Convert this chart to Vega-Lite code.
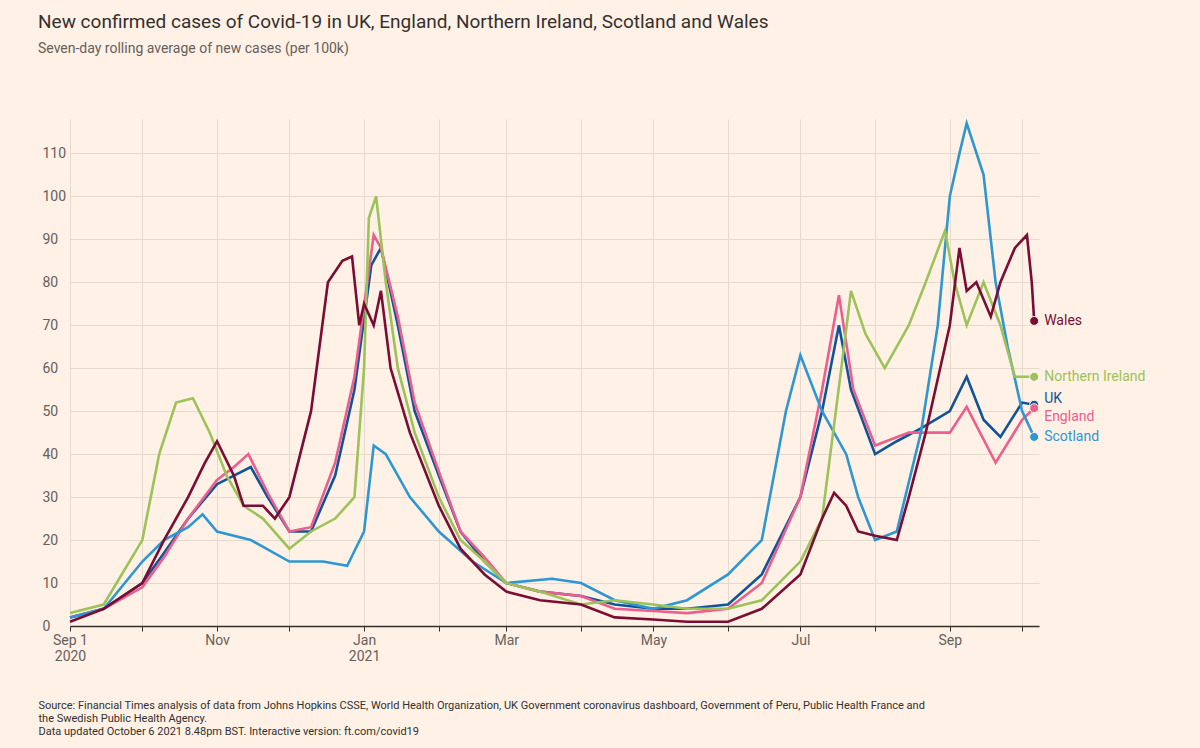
{
  "$schema": "https://vega.github.io/schema/vega-lite/v6.json",
  "width": 1200, "height": 748,
  "autosize": {"type": "fit", "contains": "padding"},
  "padding": {"left": 38, "top": 14, "right": 55, "bottom": 12},
  "background": "#fff1e5",
  "title": {
    "text": "New confirmed cases of Covid-19 in UK, England, Northern Ireland, Scotland and Wales",
    "subtitle": "Seven-day rolling average of new cases (per 100k)",
    "anchor": "start", "frame": "group", "offset": 62, "dx": -32,
    "font": "Roboto", "fontSize": 19, "fontWeight": "normal", "color": "#33302e",
    "subtitleFont": "Roboto", "subtitleFontSize": 14, "subtitleColor": "#66605c", "subtitlePadding": 10
  },
  "data": {"values": [
    {"d":"2020-09-01","c":"UK","v":2},{"d":"2020-09-15","c":"UK","v":4},{"d":"2020-10-01","c":"UK","v":10},{"d":"2020-10-10","c":"UK","v":17},{"d":"2020-10-20","c":"UK","v":25},{"d":"2020-11-01","c":"UK","v":33},{"d":"2020-11-08","c":"UK","v":35},{"d":"2020-11-15","c":"UK","v":37},{"d":"2020-11-22","c":"UK","v":30},{"d":"2020-12-01","c":"UK","v":22},{"d":"2020-12-10","c":"UK","v":22},{"d":"2020-12-20","c":"UK","v":35},{"d":"2020-12-28","c":"UK","v":55},{"d":"2021-01-04","c":"UK","v":84},{"d":"2021-01-08","c":"UK","v":88},{"d":"2021-01-15","c":"UK","v":70},{"d":"2021-01-22","c":"UK","v":50},{"d":"2021-02-01","c":"UK","v":35},{"d":"2021-02-10","c":"UK","v":22},{"d":"2021-02-20","c":"UK","v":15},{"d":"2021-03-01","c":"UK","v":10},{"d":"2021-03-15","c":"UK","v":8},{"d":"2021-04-01","c":"UK","v":7},{"d":"2021-04-15","c":"UK","v":5},{"d":"2021-05-01","c":"UK","v":4},{"d":"2021-05-15","c":"UK","v":4},{"d":"2021-06-01","c":"UK","v":5},{"d":"2021-06-15","c":"UK","v":12},{"d":"2021-07-01","c":"UK","v":30},{"d":"2021-07-10","c":"UK","v":50},{"d":"2021-07-17","c":"UK","v":70},{"d":"2021-07-22","c":"UK","v":55},{"d":"2021-08-01","c":"UK","v":40},{"d":"2021-08-10","c":"UK","v":43},{"d":"2021-08-20","c":"UK","v":46},{"d":"2021-09-01","c":"UK","v":50},{"d":"2021-09-08","c":"UK","v":58},{"d":"2021-09-15","c":"UK","v":48},{"d":"2021-09-22","c":"UK","v":44},{"d":"2021-10-01","c":"UK","v":52},{"d":"2021-10-06","c":"UK","v":51.5},
    {"d":"2020-09-01","c":"England","v":2},{"d":"2020-09-15","c":"England","v":4},{"d":"2020-10-01","c":"England","v":9},{"d":"2020-10-10","c":"England","v":16},{"d":"2020-10-20","c":"England","v":25},{"d":"2020-11-01","c":"England","v":34},{"d":"2020-11-08","c":"England","v":37},{"d":"2020-11-14","c":"England","v":40},{"d":"2020-11-22","c":"England","v":31},{"d":"2020-12-01","c":"England","v":22},{"d":"2020-12-10","c":"England","v":23},{"d":"2020-12-20","c":"England","v":38},{"d":"2020-12-28","c":"England","v":58},{"d":"2021-01-05","c":"England","v":91},{"d":"2021-01-08","c":"England","v":88},{"d":"2021-01-15","c":"England","v":72},{"d":"2021-01-22","c":"England","v":52},{"d":"2021-02-01","c":"England","v":36},{"d":"2021-02-10","c":"England","v":22},{"d":"2021-02-20","c":"England","v":16},{"d":"2021-03-01","c":"England","v":10},{"d":"2021-03-15","c":"England","v":8},{"d":"2021-04-01","c":"England","v":7},{"d":"2021-04-15","c":"England","v":4},{"d":"2021-05-01","c":"England","v":3.5},{"d":"2021-05-15","c":"England","v":3},{"d":"2021-06-01","c":"England","v":4},{"d":"2021-06-15","c":"England","v":10},{"d":"2021-07-01","c":"England","v":30},{"d":"2021-07-10","c":"England","v":55},{"d":"2021-07-17","c":"England","v":77},{"d":"2021-07-23","c":"England","v":55},{"d":"2021-08-01","c":"England","v":42},{"d":"2021-08-15","c":"England","v":45},{"d":"2021-09-01","c":"England","v":45},{"d":"2021-09-08","c":"England","v":51},{"d":"2021-09-20","c":"England","v":38},{"d":"2021-10-01","c":"England","v":48},{"d":"2021-10-06","c":"England","v":50.7},
    {"d":"2020-09-01","c":"Scotland","v":2},{"d":"2020-09-15","c":"Scotland","v":4},{"d":"2020-10-01","c":"Scotland","v":15},{"d":"2020-10-10","c":"Scotland","v":20},{"d":"2020-10-20","c":"Scotland","v":23},{"d":"2020-10-26","c":"Scotland","v":26},{"d":"2020-11-01","c":"Scotland","v":22},{"d":"2020-11-15","c":"Scotland","v":20},{"d":"2020-12-01","c":"Scotland","v":15},{"d":"2020-12-15","c":"Scotland","v":15},{"d":"2020-12-25","c":"Scotland","v":14},{"d":"2021-01-01","c":"Scotland","v":22},{"d":"2021-01-05","c":"Scotland","v":42},{"d":"2021-01-10","c":"Scotland","v":40},{"d":"2021-01-20","c":"Scotland","v":30},{"d":"2021-02-01","c":"Scotland","v":22},{"d":"2021-02-15","c":"Scotland","v":15},{"d":"2021-03-01","c":"Scotland","v":10},{"d":"2021-03-20","c":"Scotland","v":11},{"d":"2021-04-01","c":"Scotland","v":10},{"d":"2021-04-15","c":"Scotland","v":6},{"d":"2021-05-01","c":"Scotland","v":4},{"d":"2021-05-15","c":"Scotland","v":6},{"d":"2021-06-01","c":"Scotland","v":12},{"d":"2021-06-15","c":"Scotland","v":20},{"d":"2021-06-25","c":"Scotland","v":50},{"d":"2021-07-01","c":"Scotland","v":63},{"d":"2021-07-10","c":"Scotland","v":50},{"d":"2021-07-20","c":"Scotland","v":40},{"d":"2021-07-25","c":"Scotland","v":30},{"d":"2021-08-01","c":"Scotland","v":20},{"d":"2021-08-10","c":"Scotland","v":22},{"d":"2021-08-20","c":"Scotland","v":45},{"d":"2021-08-27","c":"Scotland","v":70},{"d":"2021-09-01","c":"Scotland","v":100},{"d":"2021-09-05","c":"Scotland","v":110},{"d":"2021-09-08","c":"Scotland","v":117},{"d":"2021-09-15","c":"Scotland","v":105},{"d":"2021-09-20","c":"Scotland","v":80},{"d":"2021-09-25","c":"Scotland","v":65},{"d":"2021-10-01","c":"Scotland","v":50},{"d":"2021-10-06","c":"Scotland","v":44},
    {"d":"2020-09-01","c":"Northern Ireland","v":3},{"d":"2020-09-15","c":"Northern Ireland","v":5},{"d":"2020-10-01","c":"Northern Ireland","v":20},{"d":"2020-10-08","c":"Northern Ireland","v":40},{"d":"2020-10-15","c":"Northern Ireland","v":52},{"d":"2020-10-22","c":"Northern Ireland","v":53},{"d":"2020-10-29","c":"Northern Ireland","v":45},{"d":"2020-11-05","c":"Northern Ireland","v":35},{"d":"2020-11-12","c":"Northern Ireland","v":28},{"d":"2020-11-20","c":"Northern Ireland","v":25},{"d":"2020-12-01","c":"Northern Ireland","v":18},{"d":"2020-12-10","c":"Northern Ireland","v":22},{"d":"2020-12-20","c":"Northern Ireland","v":25},{"d":"2020-12-28","c":"Northern Ireland","v":30},{"d":"2021-01-01","c":"Northern Ireland","v":60},{"d":"2021-01-03","c":"Northern Ireland","v":95},{"d":"2021-01-06","c":"Northern Ireland","v":100},{"d":"2021-01-10","c":"Northern Ireland","v":80},{"d":"2021-01-15","c":"Northern Ireland","v":60},{"d":"2021-01-22","c":"Northern Ireland","v":45},{"d":"2021-02-01","c":"Northern Ireland","v":30},{"d":"2021-02-10","c":"Northern Ireland","v":20},{"d":"2021-02-20","c":"Northern Ireland","v":15},{"d":"2021-03-01","c":"Northern Ireland","v":10},{"d":"2021-03-15","c":"Northern Ireland","v":8},{"d":"2021-04-01","c":"Northern Ireland","v":5},{"d":"2021-04-15","c":"Northern Ireland","v":6},{"d":"2021-05-01","c":"Northern Ireland","v":5},{"d":"2021-05-15","c":"Northern Ireland","v":4},{"d":"2021-06-01","c":"Northern Ireland","v":4},{"d":"2021-06-15","c":"Northern Ireland","v":6},{"d":"2021-07-01","c":"Northern Ireland","v":15},{"d":"2021-07-10","c":"Northern Ireland","v":25},{"d":"2021-07-18","c":"Northern Ireland","v":60},{"d":"2021-07-22","c":"Northern Ireland","v":78},{"d":"2021-07-28","c":"Northern Ireland","v":68},{"d":"2021-08-05","c":"Northern Ireland","v":60},{"d":"2021-08-15","c":"Northern Ireland","v":70},{"d":"2021-08-22","c":"Northern Ireland","v":80},{"d":"2021-08-30","c":"Northern Ireland","v":92},{"d":"2021-09-03","c":"Northern Ireland","v":80},{"d":"2021-09-08","c":"Northern Ireland","v":70},{"d":"2021-09-15","c":"Northern Ireland","v":80},{"d":"2021-09-22","c":"Northern Ireland","v":70},{"d":"2021-09-28","c":"Northern Ireland","v":58},{"d":"2021-10-06","c":"Northern Ireland","v":58},
    {"d":"2020-09-01","c":"Wales","v":1},{"d":"2020-09-15","c":"Wales","v":4},{"d":"2020-10-01","c":"Wales","v":10},{"d":"2020-10-10","c":"Wales","v":20},{"d":"2020-10-20","c":"Wales","v":30},{"d":"2020-10-27","c":"Wales","v":38},{"d":"2020-11-01","c":"Wales","v":43},{"d":"2020-11-08","c":"Wales","v":35},{"d":"2020-11-12","c":"Wales","v":28},{"d":"2020-11-20","c":"Wales","v":28},{"d":"2020-11-25","c":"Wales","v":25},{"d":"2020-12-01","c":"Wales","v":30},{"d":"2020-12-10","c":"Wales","v":50},{"d":"2020-12-17","c":"Wales","v":80},{"d":"2020-12-23","c":"Wales","v":85},{"d":"2020-12-27","c":"Wales","v":86},{"d":"2020-12-30","c":"Wales","v":70},{"d":"2021-01-01","c":"Wales","v":75},{"d":"2021-01-05","c":"Wales","v":70},{"d":"2021-01-08","c":"Wales","v":78},{"d":"2021-01-12","c":"Wales","v":60},{"d":"2021-01-20","c":"Wales","v":45},{"d":"2021-02-01","c":"Wales","v":28},{"d":"2021-02-10","c":"Wales","v":18},{"d":"2021-02-20","c":"Wales","v":12},{"d":"2021-03-01","c":"Wales","v":8},{"d":"2021-03-15","c":"Wales","v":6},{"d":"2021-04-01","c":"Wales","v":5},{"d":"2021-04-15","c":"Wales","v":2},{"d":"2021-05-01","c":"Wales","v":1.5},{"d":"2021-05-15","c":"Wales","v":1},{"d":"2021-06-01","c":"Wales","v":1},{"d":"2021-06-15","c":"Wales","v":4},{"d":"2021-07-01","c":"Wales","v":12},{"d":"2021-07-10","c":"Wales","v":25},{"d":"2021-07-15","c":"Wales","v":31},{"d":"2021-07-20","c":"Wales","v":28},{"d":"2021-07-25","c":"Wales","v":22},{"d":"2021-08-01","c":"Wales","v":21},{"d":"2021-08-10","c":"Wales","v":20},{"d":"2021-08-15","c":"Wales","v":30},{"d":"2021-08-22","c":"Wales","v":45},{"d":"2021-08-28","c":"Wales","v":60},{"d":"2021-09-01","c":"Wales","v":70},{"d":"2021-09-05","c":"Wales","v":88},{"d":"2021-09-08","c":"Wales","v":78},{"d":"2021-09-12","c":"Wales","v":80},{"d":"2021-09-18","c":"Wales","v":72},{"d":"2021-09-22","c":"Wales","v":80},{"d":"2021-09-28","c":"Wales","v":88},{"d":"2021-10-03","c":"Wales","v":91},{"d":"2021-10-05","c":"Wales","v":80},{"d":"2021-10-06","c":"Wales","v":71}
  ]},
  "encoding": {
    "x": {"field": "d", "type": "temporal",
      "scale": {"domain": ["2020-09-01", "2021-10-08"]},
      "axis": {"tickCount": {"interval": "month", "step": 1}, "grid": true, "gridColor": "#e6d9ce",
        "domainColor": "#33302e", "domainWidth": 1.5, "tickColor": "#33302e", "tickSize": 5,
        "labelExpr": "month(datum.value) % 2 == 1 ? '' : (month(datum.value) == 8 && year(datum.value) == 2020 ? ['Sep 1', '2020'] : (month(datum.value) == 0 ? ['Jan', '2021'] : timeFormat(datum.value, '%b')))",
        "labelFont": "Roboto", "labelFontSize": 14, "labelColor": "#66605c", "labelAlign": "center",
        "title": ["Source: Financial Times analysis of data from Johns Hopkins CSSE, World Health Organization, UK Government coronavirus dashboard, Government of Peru, Public Health France and", "the Swedish Public Health Agency.", "Data updated October 6 2021 8.48pm BST. Interactive version: ft.com/covid19"],
        "titleAnchor": "start", "titleAlign": "left", "titleX": -32, "titlePadding": 36,
        "titleFont": "Roboto", "titleFontSize": 11, "titleFontWeight": "normal", "titleColor": "#33302e", "titleLineHeight": 13}},
    "y": {"field": "v", "type": "quantitative",
      "scale": {"domain": [0, 118], "nice": false},
      "axis": {"values": [0,10,20,30,40,50,60,70,80,90,100,110], "title": null, "domain": false, "ticks": false,
        "gridColor": "#e6d9ce", "labelFont": "Roboto", "labelFontSize": 14, "labelColor": "#66605c",
        "labelAlign": "left", "labelPadding": 28}},
    "color": {"field": "c", "type": "nominal", "legend": null,
      "scale": {"domain": ["UK", "England", "Scotland", "Northern Ireland", "Wales"],
        "range": ["#0f5499", "#eb5e8d", "#2e96d3", "#9cc258", "#7a0d33"]}}
  },
  "layer": [
    {"mark": {"type": "line", "strokeWidth": 2.6}},
    {"transform": [{"filter": "year(datum.d) == 2021 && month(datum.d) == 9 && date(datum.d) == 6"}],
     "mark": {"type": "point", "filled": true, "size": 80, "opacity": 1, "stroke": "#fff1e5", "strokeWidth": 1}},
    {"transform": [{"filter": "year(datum.d) == 2021 && month(datum.d) == 9 && date(datum.d) == 6 && datum.c != 'UK' && datum.c != 'England'"}],
     "mark": {"type": "text", "align": "left", "dx": 10, "font": "Roboto", "fontSize": 14},
     "encoding": {"text": {"field": "c"}}},
    {"transform": [{"filter": "year(datum.d) == 2021 && month(datum.d) == 9 && date(datum.d) == 6 && datum.c == 'UK'"}],
     "mark": {"type": "text", "align": "left", "dx": 10, "dy": -6, "font": "Roboto", "fontSize": 14},
     "encoding": {"text": {"field": "c"}}},
    {"transform": [{"filter": "year(datum.d) == 2021 && month(datum.d) == 9 && date(datum.d) == 6 && datum.c == 'England'"}],
     "mark": {"type": "text", "align": "left", "dx": 10, "dy": 9, "font": "Roboto", "fontSize": 14},
     "encoding": {"text": {"field": "c"}}}
  ],
  "config": {"view": {"stroke": null}}
}
